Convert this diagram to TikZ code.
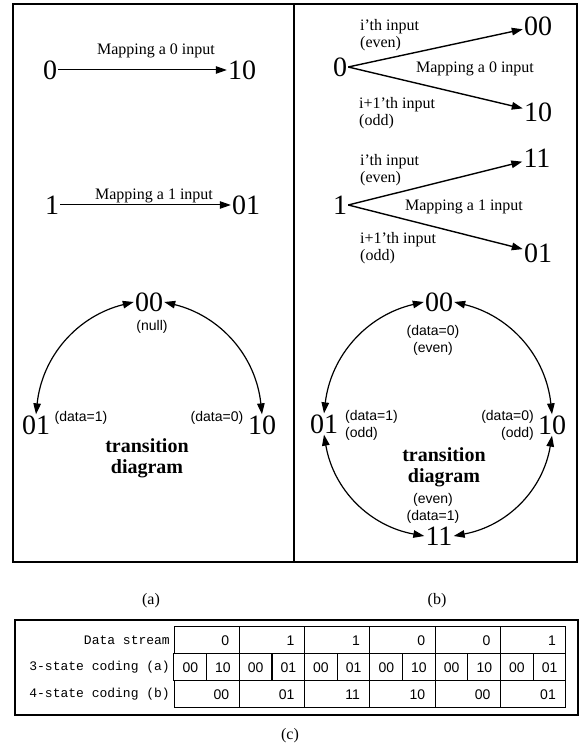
\documentclass[tikz,border=0pt]{standalone}
\usepackage{fontspec}
\setmainfont{Liberation Serif}
\newfontfamily\helv{Liberation Sans}
\newfontfamily\cour{Liberation Mono}
\usetikzlibrary{arrows.meta}

\begin{document}
\begin{tikzpicture}[x=1pt, y=1pt,
    state/.style={font=\fontsize{28}{30}\selectfont, inner sep=1pt},
    txt/.style={font=\fontsize{16}{17}\selectfont, inner sep=1pt},
    note/.style={font=\helv\fontsize{14}{17}\selectfont, inner sep=1pt},
    ttl/.style={font=\bfseries\fontsize{20}{21}\selectfont, align=center},
    arr/.style={-{Triangle[length=11pt, width=7.5pt]}, line width=1pt},
    barr/.style={arr, line width=1.4pt},
    darr/.style={{Triangle[length=11pt, width=7.5pt]}-{Triangle[length=11pt, width=7.5pt]},
      line width=1.2pt},
    frm/.style={line width=2pt},
    rowlbl/.style={font=\cour\fontsize{13}{13}\selectfont, anchor=east, inner sep=1pt},
    cell/.style={draw, line width=1pt, minimum height=27pt, inner sep=0pt,
      font=\helv\fontsize{14}{14}\selectfont},
    wcell/.style={cell, minimum width=65.33pt, text width=45pt, align=right},
    hcell/.style={cell, minimum width=32.67pt},
  ]
    \useasboundingbox (0,0) rectangle (579,752);

    % ═══ Frames ═══
    \draw[frm] (13,190) rectangle (577,748);
    \draw[frm] (294,190) -- (294,748);

    % ═══ (a) 3-state mapping ═══
    \node[state] (a0) at (50,682) {0};
    \node[state] (a10) at (242,682) {10};
    \draw[arr] (a0) -- node[txt, above=11pt, pos=0.58] (am0) {Mapping a 0 input} (a10);

    \node[state] (a1) at (52,547) {1};
    \node[state] (a01) at (246,547) {01};
    \draw[arr] (a1) -- node[txt, above=1pt, pos=0.55] (am1) {Mapping a 1 input} (a01);

    % transition diagram (a)
    \node[state] (a00c) at (149,450) {00};
    \node[note] (anull) at (152,425) {(null)};
    \node[state] (a01c) at (36,327) {01};
    \node[note] (ad1) at (81,334) {(data=1)};
    \node[note] (ad0) at (217,334) {(data=0)};
    \node[state] (a10c) at (262,327) {10};
    \node[ttl] (atd) at (147,293.5) {transition\\diagram};
    \draw[darr] (a00c.west) to[bend right=35] (a01c.north);
    \draw[darr] (a00c.east) to[bend left=35] (a10c.north);

    % ═══ (b) 4-state mapping ═══
    \node[state] (b0) at (340,685) {0};
    \node[state] (b00) at (538,726) {00};
    \node[state] (b10) at (538,640) {10};
    \draw[barr] (b0.east) -- (b00);
    \draw[barr] (b0.east) -- (b10);
    \node[txt, align=left, anchor=west] (be0) at (359,716.5) {i'th input\\(even)};
    \node[txt] (bm0) at (475,683) {Mapping a 0 input};
    \node[txt, align=left, anchor=west] (bo0) at (358,639) {i+1'th input\\(odd)};

    \node[state] (b1) at (340,547) {1};
    \node[state] (b11) at (537,594) {11};
    \node[state] (b01) at (538,499) {01};
    \draw[barr] (b1.east) -- (b11);
    \draw[barr] (b1.east) -- (b01);
    \node[txt, align=left, anchor=west] (be1) at (359,582) {i'th input\\(even)};
    \node[txt] (bm1) at (464,545) {Mapping a 1 input};
    \node[txt, align=left, anchor=west] (bo1) at (359,503.5) {i+1'th input\\(odd)};

    % transition diagram (b)
    \node[state] (c00) at (439,450) {00};
    \node[note, align=center] (c00l) at (433,411.5) {(data=0)\\(even)};
    \node[state] (c01) at (324,328) {01};
    \node[note, align=left, anchor=west] (c01l) at (344,326.5) {(data=1)\\(odd)};
    \node[state] (c10) at (552,327) {10};
    \node[note, align=right, anchor=east] (c10l) at (535,326.5) {(data=0)\\(odd)};
    \node[ttl] (btd) at (444,285) {transition\\diagram};
    \node[note, align=center] (c11l) at (433,244) {(even)\\(data=1)};
    \node[state] (c11) at (439,216) {11};
    \draw[darr] (c00.west) to[bend right=35] (c01.north);
    \draw[darr] (c00.east) to[bend left=35] (c10.north);
    \draw[darr] (c01.south) to[bend right=35] (c11.west);
    \draw[darr] (c10.south) to[bend left=35] (c11.east);

    \node[txt] (capa) at (151,151) {(a)};
    \node[txt] (capb) at (437,151) {(b)};

    % ═══ (c) coding table ═══
    \draw[frm] (15,37) rectangle (578,132);
    \node[rowlbl] (rl1) at (171,111.5) {Data stream};
    \node[rowlbl] (rl2) at (171,84.5) {3-state coding (a)};
    \node[rowlbl] (rl3) at (171,57.5) {4-state coding (b)};
    \foreach \d [count=\i] in {0,1,1,0,0,1}
      \node[wcell] (ds\i) at ({174+(\i-0.5)*65.33},111.5) {\d};
    \foreach \p/\q [count=\i] in {00/10,00/01,00/01,00/10,00/10,00/01} {
      \node[hcell] (ta\i) at ({174+(\i-0.75)*65.33},84.5) {\p};
      \node[hcell] (tb\i) at ({174+(\i-0.25)*65.33},84.5) {\q};
    }
    \foreach \d [count=\i] in {00,01,11,10,00,01}
      \node[wcell] (fs\i) at ({174+(\i-0.5)*65.33},57.5) {\d};
    \node[txt] (capc) at (290,16) {(c)};
  \end{tikzpicture}
\end{document}
